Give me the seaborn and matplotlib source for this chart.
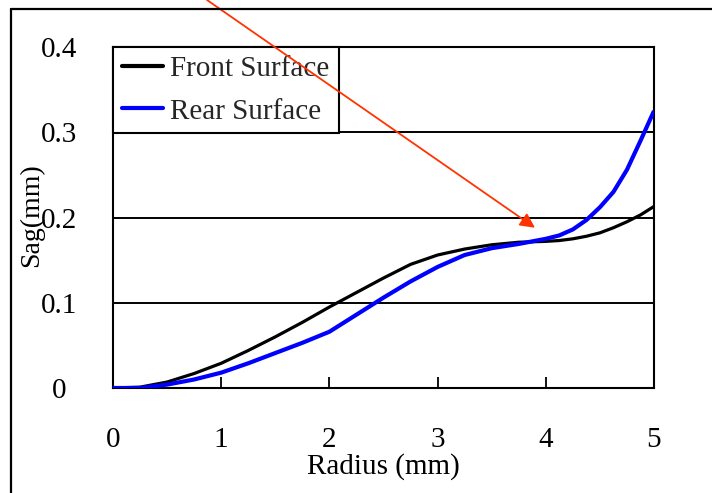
import numpy as np
import pandas as pd
import matplotlib
matplotlib.use("Agg")
import matplotlib.pyplot as plt
from matplotlib.lines import Line2D
import seaborn as sns

radius = [0, 0.25, 0.5, 0.75, 1.0, 1.25, 1.5, 1.75, 2.0, 2.25, 2.5, 2.75,
          3.0, 3.25, 3.5, 3.75, 4.0, 4.125, 4.25, 4.375, 4.5, 4.625, 4.75, 4.875, 5.0]
front_sag = [0.0, 0.001, 0.007, 0.017, 0.029, 0.044, 0.060, 0.077, 0.095, 0.112,
             0.129, 0.145, 0.156, 0.163, 0.168, 0.171, 0.172, 0.173, 0.175, 0.178,
             0.182, 0.188, 0.195, 0.203, 0.213]
rear_sag = [0.0, 0.0, 0.004, 0.010, 0.018, 0.029, 0.041, 0.053, 0.066, 0.086,
            0.106, 0.125, 0.142, 0.156, 0.164, 0.169, 0.175, 0.179, 0.186, 0.197,
            0.212, 0.230, 0.256, 0.290, 0.325]
series_names = ["Front Surface", "Rear Surface"]
x_ticks = [0, 1, 2, 3, 4, 5]
y_ticks = [0, 0.1, 0.2, 0.3, 0.4]
y_tick_labels = ["0", "0.1", "0.2", "0.3", "0.4"]
arrow_tip = (3.90, 0.188)

df = pd.DataFrame({
    "Radius": radius * 2,
    "Sag": front_sag + rear_sag,
    "Surface": [series_names[0]] * len(radius) + [series_names[1]] * len(radius),
})

sns.set_theme(style="white")
plt.rcParams["font.family"] = ["Liberation Serif", "DejaVu Serif"]

fig = plt.figure(figsize=(7.12, 4.93), dpi=100)
ax = fig.add_axes([113 / 712, 1 - 388 / 493, 541 / 712, 341 / 493])

sns.lineplot(data=df, x="Radius", y="Sag", hue="Surface",
             palette={series_names[0]: "black", series_names[1]: "#0000ff"},
             ax=ax, legend=False)
lines = ax.get_lines()
lines[0].set_linewidth(2.3)
lines[1].set_linewidth(3.0)
lines[1].set_zorder(3)
for ln in lines:
    ln.set_solid_joinstyle("round")
    ln.set_solid_capstyle("butt")

ax.set_xlim(0, 5)
ax.set_ylim(0, 0.4)
ax.set_xticks(x_ticks)
ax.set_yticks(y_ticks)
ax.set_yticklabels(y_tick_labels)
ax.tick_params(axis="x", direction="in", length=8, width=1.3, color="black",
               labelsize=21, pad=28, labelcolor="black", bottom=True)
ax.tick_params(axis="y", length=0, labelsize=21, pad=39, labelcolor="black")
for lab in ax.get_yticklabels():
    lab.set_horizontalalignment("center")

for yv in y_ticks[1:-1]:
    ax.axhline(yv, color="black", lw=1.4, zorder=1)

for sp in ax.spines.values():
    sp.set_color("black")
    sp.set_linewidth(1.5)
    sp.set_visible(True)

ax.set_xlabel("Radius (mm)", fontsize=21, color="black")
ax.set_ylabel("Sag(mm)", fontsize=20, color="black")
ax.xaxis.set_label_coords(0.499, -0.19)
ax.yaxis.set_label_coords(-0.128, 0.507)

handles = [Line2D([], [], color="black", lw=3.0),
           Line2D([], [], color="#0000ff", lw=3.0)]
leg = ax.legend(handles, series_names, loc="upper left",
                bbox_to_anchor=(0, 0.745, 0.418, 0.255), mode="expand",
                borderaxespad=0, fontsize=21, frameon=True, fancybox=False,
                edgecolor="black", framealpha=1, handlelength=1.4,
                handletextpad=0.25, borderpad=0.3, labelspacing=0.55)
leg.get_frame().set_linewidth(1.5)
leg.set_zorder(5)

ax.annotate("", xy=arrow_tip, xycoords="data",
            xytext=(207 / 712, 1.0), textcoords="figure fraction",
            arrowprops=dict(arrowstyle="-|>", color="#ff3300", lw=1.3,
                            mutation_scale=22, shrinkA=0, shrinkB=0),
            annotation_clip=False, zorder=6)

fig.add_artist(Line2D([11 / 712, 11 / 712], [0, 1 - 9 / 493],
                      transform=fig.transFigure, color="black", lw=1.6))
fig.add_artist(Line2D([11 / 712, 1], [1 - 9 / 493, 1 - 9 / 493],
                      transform=fig.transFigure, color="black", lw=1.6))

fig.savefig("out.png", dpi=100)
